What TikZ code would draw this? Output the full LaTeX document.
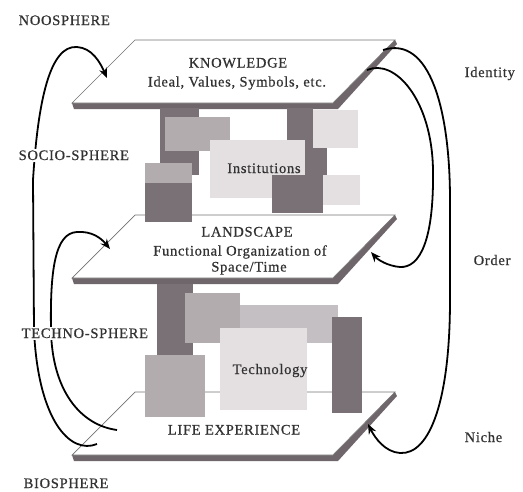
\documentclass[tikz,border=0pt]{standalone}
\usepackage{fontspec}
\setmainfont{Liberation Serif}[LetterSpace=5, FakeBold=0.6]
\usetikzlibrary{arrows.meta}

\definecolor{platedark}{RGB}{110,102,106}
\definecolor{blockdark}{RGB}{122,113,118}
\definecolor{blockmid}{RGB}{178,172,175}
\definecolor{blockpale}{RGB}{196,191,194}
\definecolor{blocklight}{RGB}{228,224,226}
\definecolor{labelgray}{RGB}{50,50,50}

\newcommand\figtextstyle{\fontsize{14.5}{16.5}\selectfont}
\newcommand\figplate[1]{
  \fill[platedark] (72, #1 + 63) -- (333, #1 + 63) -- (395, #1) -- (397, #1 + 4) -- (338, #1 + 69) -- (74, #1 + 69) -- cycle ;
  \draw[plateline] (135, #1) -- ++ (260, 0) -- ++ (-62, 63) -- ++ (-261, 0) -- cycle ;
}
\newcommand\figblock[5]{
  \fill[#1] (#2, #3) rectangle (#4, #5) ;
}

\tikzset{
  plateline/.style={draw=black!55, line width=0.7pt, fill=white},
  figtext/.style={anchor=base, text=labelgray, font=\figtextstyle, inner sep=0pt},
  spheretext/.style={anchor=base west, text=labelgray, font=\figtextstyle, fill=white, inner sep=1.5pt},
  flow/.style={line width=1.8pt, -{Stealth[length=10pt, width=8pt]}}
}

\begin{document}
\begin{tikzpicture}[x=1pt, y=-1pt]
  \useasboundingbox (0, 0) rectangle (523, 491) ;
  % plates
  \figplate{40}
  \figplate{215}
  \figplate{392}
  % institutions
  \figblock{blockdark}{160}{108}{199}{175}
  \figblock{blockmid}{165}{117}{230}{151}
  \figblock{blockdark}{287}{108}{313}{175}
  \figblock{blockdark}{303}{147}{327}{175}
  \figblock{blocklight}{313}{110}{358}{148}
  \figblock{blocklight}{323}{175}{360}{205}
  \figblock{blocklight}{210}{140}{305}{198}
  \figblock{blockdark}{272}{175}{323}{213}
  \figblock{blockmid}{145}{163}{192}{183}
  \figblock{blockdark}{145}{183}{192}{222}
  % technology
  \figblock{blockdark}{157}{284}{193}{355}
  \figblock{blockmid}{185}{293}{240}{343}
  \figblock{blockpale}{240}{305}{338}{343}
  \figblock{blockdark}{332}{317}{362}{413}
  \figblock{blockmid}{145}{355}{205}{417}
  \figblock{blocklight}{220}{328}{307}{410}
  % arrow ends
  \coordinate (nootail) at (97, 444) ;
  \coordinate (nootip) at (107, 78) ;
  \coordinate (sociotail) at (117, 430) ;
  \coordinate (sociotip) at (110, 249) ;
  \coordinate (ordertail) at (367, 70) ;
  \coordinate (ordertip) at (371, 252) ;
  \coordinate (nichetail) at (383, 50) ;
  \coordinate (nichetip) at (368, 424) ;
  \draw[flow] (nootail) .. controls (70, 455) and (38, 420) .. (34, 330) -- (33, 180) .. controls (38, 100) and (50, 45) .. (77, 47) .. controls (92, 48) and (100, 62) .. (nootip) ;
  \draw[flow] (sociotail) .. controls (80, 425) and (52, 390) .. (51, 330) .. controls (50, 270) and (55, 233) .. (77, 232) .. controls (92, 231) and (101, 238) .. (sociotip) ;
  \draw[flow] (ordertail) .. controls (395, 58) and (432, 100) .. (433, 170) .. controls (434, 240) and (420, 268) .. (400, 267) .. controls (388, 266) and (378, 260) .. (ordertip) ;
  \draw[flow] (nichetail) .. controls (430, 35) and (450, 110) .. (450, 200) -- (450, 300) .. controls (450, 400) and (430, 455) .. (400, 453) .. controls (385, 452) and (375, 438) .. (nichetip) ;
  % texts
  \node[figtext] (knowledge) at (238, 67.5) {KNOWLEDGE} ;
  \node[figtext] (ideals) at (237, 86.5) {Ideal, Values, Symbols, etc.} ;
  \node[figtext] (institutions) at (264, 173) {Institutions} ;
  \node[figtext] (landscape) at (247, 236.5) {LANDSCAPE} ;
  \node[figtext] (functional) at (240, 255.5) {Functional Organization of} ;
  \node[figtext] (spacetime) at (249, 271.5) {Space/Time} ;
  \node[figtext] (technology) at (270, 374) {Technology} ;
  \node[figtext] (lifeexp) at (234, 434.5) {LIFE EXPERIENCE} ;
  \node[spheretext] (noosphere) at (17, 25) {NOOSPHERE} ;
  \node[spheretext] (sociosphere) at (17, 160) {SOCIO-SPHERE} ;
  \node[spheretext] (technosphere) at (20, 338) {TECHNO-SPHERE} ;
  \node[spheretext] (biosphere) at (22, 488) {BIOSPHERE} ;
  \node[spheretext] (identity) at (463, 77) {Identity} ;
  \node[spheretext] (order) at (472, 265) {Order} ;
  \node[spheretext] (niche) at (463, 442) {Niche} ;
\end{tikzpicture}
\end{document}
